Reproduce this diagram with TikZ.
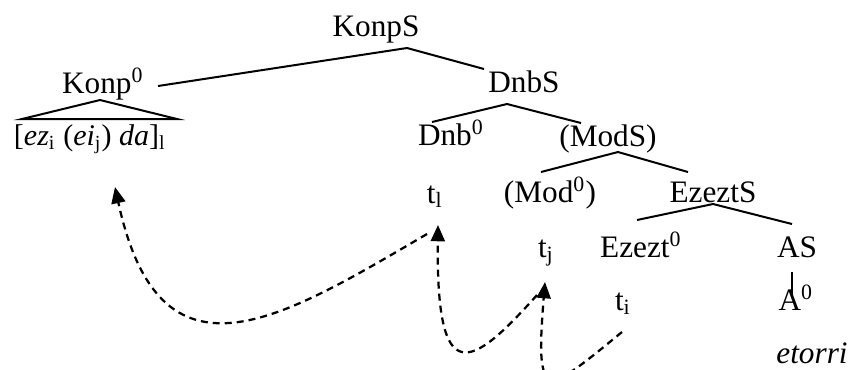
\documentclass[tikz,border=0pt]{standalone}
\usepackage{fontspec}
\setmainfont{Liberation Serif}
\usetikzlibrary{arrows.meta}

\tikzset{
  lbl/.style={anchor=base, inner sep=0pt, font=\fontsize{12.5}{15}\selectfont},
  branch/.style={line width=0.8pt},
  trace/.style={line width=0.9pt, dash pattern=on 2.8pt off 2pt,
    -{Triangle[length=6.5pt,width=5.6pt]}}
}

\begin{document}
\begin{tikzpicture}[x=0.4pt, y=-0.4pt]
    \useasboundingbox (0,0) rectangle (853,369);
    \clip (0,0) rectangle (853,369);

    % Tree labels
    \node[lbl] (konpS) at (376,36) {KonpS};
    \node[lbl] (konp0) at (103,93) {Konp\textsuperscript{0}};
    \node[lbl, font=\fontsize{12}{14}\selectfont] (chunk) at (90,145) {[\textit{ez}\textsubscript{i} (\textit{ei}\textsubscript{j}) \textit{da}]\textsubscript{l}};
    \node[lbl] (dnbS) at (524,92) {DnbS};
    \node[lbl] (dnb0) at (451,145) {Dnb\textsuperscript{0}};
    \node[lbl] (modS) at (608,146) {(ModS)};
    \node[lbl] (tl) at (435,203) {t\textsubscript{l}};
    \node[lbl] (mod0) at (550,202) {(Mod\textsuperscript{0})};
    \node[lbl] (ezeztS) at (713,202) {EzeztS};
    \node[lbl] (tj) at (546,257) {t\textsubscript{j}};
    \node[lbl] (ezezt0) at (641,257) {Ezezt\textsuperscript{0}};
    \node[lbl] (aS) at (797,257) {AS};
    \node[lbl] (ti) at (623,310) {t\textsubscript{i}};
    \node[lbl] (a0) at (796,310) {A\textsuperscript{0}};
    \node[lbl] (etorri) at (812,363) {\textit{etorri}};

    % Branch points
    \coordinate (konpS-top) at (407,48);
    \coordinate (konpS-l) at (158,86);
    \coordinate (konpS-r) at (484,69);
    \coordinate (dnbS-top) at (507,104);
    \coordinate (dnbS-l) at (432,122);
    \coordinate (dnbS-r) at (581,123);
    \coordinate (modS-top) at (618,152);
    \coordinate (modS-l) at (541,172);
    \coordinate (modS-r) at (688,172);
    \coordinate (ezeztS-top) at (713,204);
    \coordinate (ezeztS-l) at (637,220);
    \coordinate (ezeztS-r) at (792,224);
    \coordinate (aS-top) at (792,272);
    \coordinate (aS-bot) at (792,298);
    \coordinate (roof-top) at (100,100);
    \coordinate (roof-l) at (22,119);
    \coordinate (roof-r) at (177,119);

    % Branches
    \draw[branch] (konpS-l) -- (konpS-top) -- (konpS-r);
    \draw[branch] (dnbS-l) -- (dnbS-top) -- (dnbS-r);
    \draw[branch] (modS-l) -- (modS-top) -- (modS-r);
    \draw[branch] (ezeztS-l) -- (ezeztS-top) -- (ezeztS-r);
    \draw[branch] (aS-top) -- (aS-bot);
    \draw[branch] (roof-l) -- (roof-top) -- (roof-r) -- cycle;

    % Movement traces
    \coordinate (ti-out) at (622,332);
    \coordinate (tj-in) at (545,282);
    \coordinate (tj-out) at (537,295);
    \coordinate (tl-in) at (438,225);
    \coordinate (tl-out) at (427,234);
    \coordinate (chunk-in) at (115,187);
    \draw[trace] (ti-out) .. controls (545,395) and (535,405) .. (tj-in);
    \draw[trace] (tj-out) .. controls (470,370) and (436,390) .. (tl-in);
    \draw[trace] (tl-out) .. controls (280,320) and (160,395) .. (chunk-in);
\end{tikzpicture}
\end{document}
